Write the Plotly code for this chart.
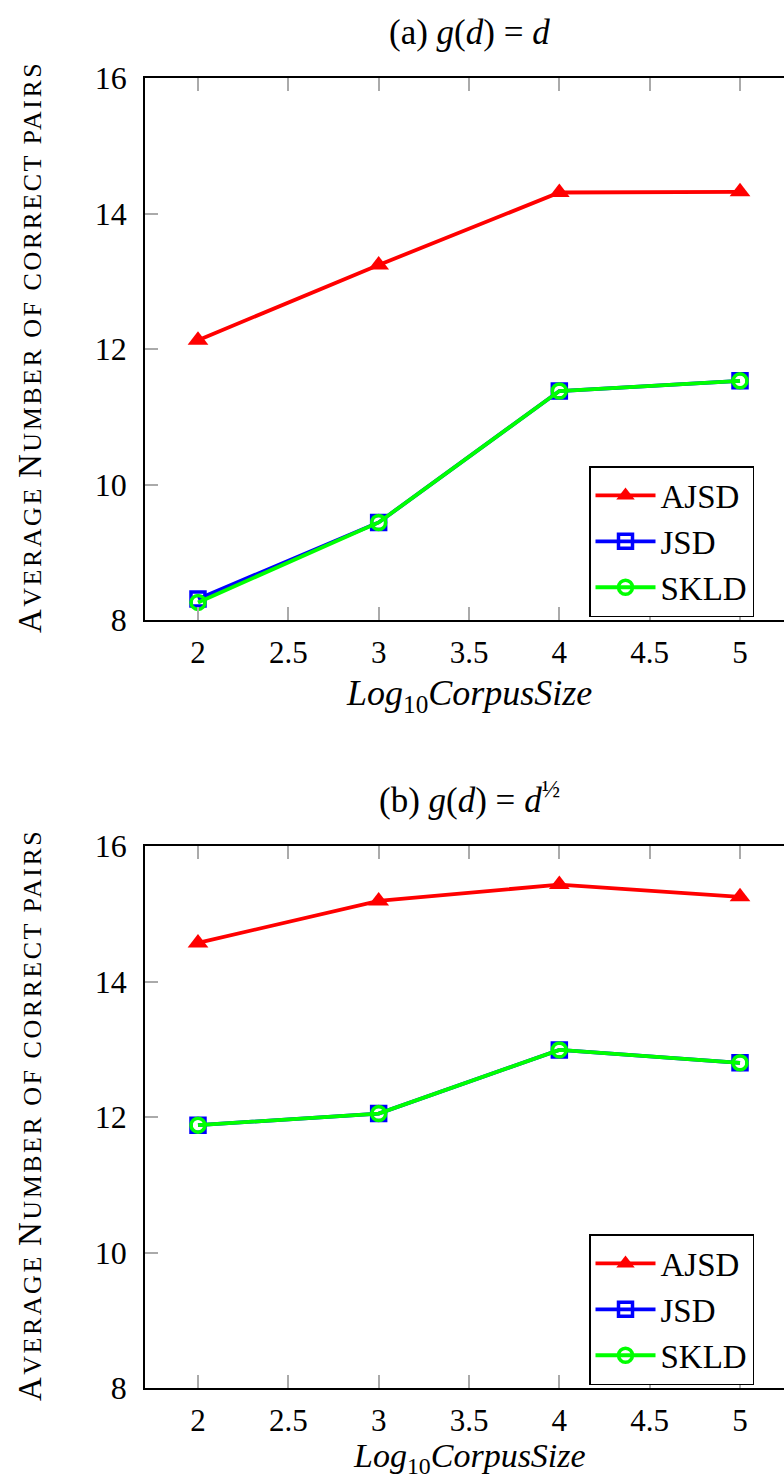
import plotly.graph_objects as go
from plotly.subplots import make_subplots

x_vals = [2, 3, 4, 5]
# (a) g(d) = d
ajsd_a = [12.13, 13.24, 14.31, 14.32]
jsd_a = [8.31, 9.44, 11.38, 11.53]
skld_a = [8.26, 9.44, 11.38, 11.53]
# (b) g(d) = d^(1/2)
ajsd_b = [14.57, 15.19, 15.43, 15.25]
jsd_b = [11.88, 12.05, 12.99, 12.80]
skld_b = [11.88, 12.05, 12.99, 12.80]

x_ticks = [2, 2.5, 3, 3.5, 4, 4.5, 5]
y_ticks = [8, 10, 12, 14, 16]

W, H = 784, 1481
L = 145
FONT = "Liberation Serif"

fig = make_subplots(rows=2, cols=1)

def add_series(row, aj, js, sk, legend):
    fig.add_trace(go.Scatter(x=x_vals, y=aj, name="AJSD", mode="lines+markers",
                             line=dict(color="#ff0000", width=3.8),
                             marker=dict(symbol="triangle-up", size=18, color="#ff0000"),
                             legend=legend), row=row, col=1)
    fig.add_trace(go.Scatter(x=x_vals, y=js, name="JSD", mode="lines+markers",
                             line=dict(color="#0000ff", width=3.8),
                             marker=dict(symbol="square-open", size=14, color="#0000ff",
                                         line=dict(width=3.5, color="#0000ff")),
                             legend=legend), row=row, col=1)
    fig.add_trace(go.Scatter(x=x_vals, y=sk, name="SKLD", mode="lines+markers",
                             line=dict(color="#00ff00", width=3.8),
                             marker=dict(symbol="circle-open", size=14, color="#00ff00",
                                         line=dict(width=3.5, color="#00ff00")),
                             legend=legend), row=row, col=1)

add_series(1, ajsd_a, jsd_a, skld_a, "legend")
add_series(2, ajsd_b, jsd_b, skld_b, "legend2")

def py(p):
    return (H - p) / H

def px(p):
    return (p - L) / (W - L)

axis_common = dict(showline=True, linecolor="black", linewidth=1.5,
                   ticks="inside", ticklen=13, tickwidth=1.5, tickcolor="#aaaaaa",
                   showgrid=False, zeroline=False, automargin=False)

for r, dom in [(1, [py(620), py(78)]), (2, [py(1388), py(846)])]:
    fig.update_xaxes(range=[1.7067, 5.2435], tickvals=x_ticks,
                     ticktext=[("%g" % v) for v in x_ticks],
                     tickfont=dict(family=FONT, size=31, color="black"),
                     mirror="allticks", ticklabelstandoff=4, **axis_common, row=r, col=1)
    fig.update_yaxes(range=[8, 16], tickvals=y_ticks, domain=dom,
                     tickfont=dict(family=FONT, size=32, color="black"),
                     mirror=False, ticklabelstandoff=10, **axis_common, row=r, col=1)

legend_style = dict(font=dict(family=FONT, size=33, color="black"),
                    bgcolor="white", bordercolor="black", borderwidth=1.5,
                    xanchor="left", yanchor="top", itemwidth=60, tracegroupgap=0)

fig.update_layout(
    width=W, height=H,
    margin=dict(l=L, r=0, t=0, b=0),
    plot_bgcolor="white", paper_bgcolor="white",
    legend=dict(x=px(589), y=py(466), **legend_style),
    legend2=dict(x=px(589), y=py(1234), **legend_style),
)

sc = "font-size:26px;letter-spacing:2.5px"
ylab = ("<span style='letter-spacing:2.5px'>A</span><span style='%s'>VERAGE</span> "
        "<span style='letter-spacing:2.5px'>N</span><span style='%s'>UMBER OF CORRECT PAIRS</span>" % (sc, sc))

annots = [
    dict(text="(a) <i>g</i>(<i>d</i>) = <i>d</i>", x=px(469), y=py(32), size=35),
    dict(text="(b) <i>g</i>(<i>d</i>) = <i>d</i><sup>½</sup>", x=px(469), y=py(797), size=35),
    dict(text="<i>Log</i><sub>10</sub><i>CorpusSize</i>", x=px(469), y=py(695), size=36),
    dict(text="<i>Log</i><sub>10</sub><i>CorpusSize</i>", x=px(469), y=py(1458), size=34),
    dict(text=ylab, x=px(30), y=py(347), textangle=-90, size=33),
    dict(text=ylab, x=px(30), y=py(1115), textangle=-90, size=33),
]
for a in annots:
    size = a.pop("size")
    fig.add_annotation(xref="paper", yref="paper", showarrow=False,
                       xanchor="center", yanchor="middle",
                       font=dict(family=FONT, size=size, color="black"), **a)

fig.write_html("out.html", config={"displayModeBar": False},
               post_script="document.body.style.margin='0';document.body.style.overflow='hidden';")
